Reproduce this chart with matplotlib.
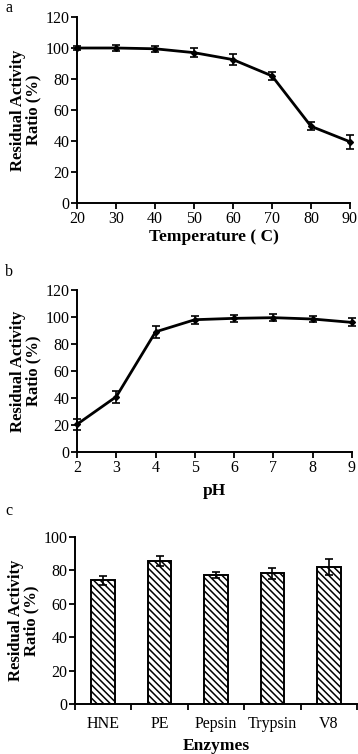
import numpy as np
import matplotlib
matplotlib.use('Agg')
import matplotlib.pyplot as plt

plt.rcParams['font.family'] = ['Liberation Serif', 'DejaVu Serif']
plt.rcParams['hatch.linewidth'] = 1.1

temp = [20, 30, 40, 50, 60, 70, 80, 90]
temp_act = [100, 100, 99.5, 97, 92.5, 82, 49.5, 39.5]
temp_err = [1.5, 2, 2, 3, 3.5, 2.5, 2.5, 4.5]

ph = [2, 3, 4, 5, 6, 7, 8, 9]
ph_act = [20.5, 41, 89, 98, 99, 99.5, 98.5, 96]
ph_err = [4, 4.5, 4.5, 3, 2.5, 2.5, 2, 3]

enzymes = ['HNE', 'PE', 'Pepsin', 'Trypsin', 'V8']
enz_act = [74.2, 85.5, 77.3, 78.3, 82]
enz_err = [2.7, 3, 1.8, 3.2, 5]

ylab = 'Residual Activity\nRatio (%)'

fig = plt.figure(figsize=(3.58, 7.54), dpi=100)
W, H = 358, 754


def add_ax(l, r, t, b):
    return fig.add_axes([l / W, 1 - b / H, (r - l) / W, (b - t) / H])


def style(ax):
    for s in ['top', 'right']:
        ax.spines[s].set_visible(False)
    for s in ['left', 'bottom']:
        ax.spines[s].set_linewidth(1.4)
    ax.tick_params(direction='out', length=4, width=1.3, labelsize=11.5, pad=1.5)
    ax.set_ylabel(ylab, fontsize=12, fontweight='bold', labelpad=3, linespacing=0.95)


# panel a
ax1 = add_ax(77, 350, 17, 203)
ax1.errorbar(temp, temp_act, yerr=temp_err, color='black', lw=2, marker='D', ms=3,
             capsize=3, elinewidth=1.2, capthick=1.2, clip_on=False)
ax1.set_xlim(20, 90)
ax1.set_ylim(0, 120)
ax1.set_xticks(temp)
ax1.set_yticks(np.arange(0, 121, 20))
ax1.set_xlabel('Temperature ( C)', fontsize=12.5, fontweight='bold', labelpad=2)
style(ax1)
fig.text(5 / W, 1 - 8 / H, 'a', fontsize=11.5, va='center')

# panel b
ax2 = add_ax(77, 352, 290, 452)
ax2.errorbar(ph, ph_act, yerr=ph_err, color='black', lw=2, marker='D', ms=3,
             capsize=3, elinewidth=1.2, capthick=1.2, clip_on=False)
ax2.set_xlim(2, 9)
ax2.set_ylim(0, 120)
ax2.set_xticks(ph)
ax2.set_yticks(np.arange(0, 121, 20))
ax2.set_xlabel('pH', fontsize=12.5, fontweight='bold', labelpad=5)
style(ax2)
fig.text(5 / W, 1 - 272 / H, 'b', fontsize=11.5, va='center')

# panel c
ax3 = add_ax(75, 357, 537, 704)
xpos = np.arange(len(enzymes)) + 0.5
ax3.bar(xpos, enz_act, width=0.42, color='white', edgecolor='black', linewidth=1.4,
        hatch='\\\\\\\\\\')
ax3.errorbar(xpos, enz_act, yerr=enz_err, fmt='none', ecolor='black', capsize=3,
             elinewidth=1.2, capthick=1.2)
ax3.set_xlim(0, len(enzymes))
ax3.set_ylim(0, 100)
ax3.set_yticks(np.arange(0, 101, 20))
ax3.set_xticks(np.arange(0, len(enzymes) + 1))
ax3.set_xticklabels([])
ax3.set_xticks(xpos, minor=True)
ax3.set_xticklabels(enzymes, minor=True)
style(ax3)
ax3.tick_params(axis='x', which='minor', length=0, labelsize=11.5, pad=9)
ax3.set_xlabel('Enzymes', fontsize=12.5, fontweight='bold', labelpad=4)
fig.text(5 / W, 1 - 511 / H, 'c', fontsize=11.5, va='center')

fig.savefig('out.png', dpi=100)
